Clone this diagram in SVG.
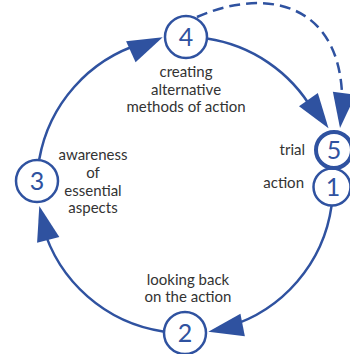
<svg xmlns="http://www.w3.org/2000/svg" xmlns:xlink="http://www.w3.org/1999/xlink" width="350" height="354" viewBox="0 0 350 354">
<style>
.edge{fill:none;stroke:#2F52A0;stroke-width:2.5}
.dash{stroke-dasharray:11 6}
.ah{fill:#2F52A0}
.node{fill:#fff;stroke:#2F52A0;stroke-width:2.5}
.thick{stroke-width:4}
.num{font-family:"Lato","Liberation Sans",sans-serif;font-size:25px;fill:#2F52A0;text-anchor:middle}
.lbl{font-family:"Lato","Liberation Sans",sans-serif;font-size:15px;fill:#333;text-anchor:middle}
.r{text-anchor:end}
</style>
<defs>
<polygon id="arrowhead" class="ah" points="0,0 -35,-11.5 -35,11.5"/>
</defs>
<rect width="350" height="354" fill="#fff"/>
<g id="connectors">
<path class="edge" d="M39.25,159.3 A148,148 0 0 1 141.7,43.5"/>
<use xlink:href="#arrowhead" transform="translate(162.7,37.3) rotate(-24.4)"/>
<path class="edge" d="M206.9,38.6 A148,148 0 0 1 313.2,111"/>
<use xlink:href="#arrowhead" transform="translate(328.5,128.3) rotate(55)"/>
<path class="edge dash" d="M197,17 C270,-15 347,5 342,112"/>
<use xlink:href="#arrowhead" transform="translate(340,128) rotate(97)"/>
<path class="edge" d="M331.6,205.6 A148,148 0 0 1 227.5,326.8"/>
<use xlink:href="#arrowhead" transform="translate(208.3,331.7) rotate(168.9)"/>
<path class="edge" d="M163.1,331.4 A148,148 0 0 1 42.8,226"/>
<use xlink:href="#arrowhead" transform="translate(39.3,206) rotate(-104.8)"/>
</g>
<g id="node4">
<circle class="node" cx="186" cy="37" r="21"/>
<text class="num" x="186" y="46">4</text>
<text class="lbl" x="186" y="77">creating</text>
<text class="lbl" x="186" y="95">alternative</text>
<text class="lbl" x="186" y="112">methods of action</text>
</g>
<g id="node3">
<circle class="node" cx="37" cy="181" r="21"/>
<text class="num" x="37" y="190">3</text>
<text class="lbl" x="93" y="160">awareness</text>
<text class="lbl" x="93" y="178">of</text>
<text class="lbl" x="93" y="196">essential</text>
<text class="lbl" x="93" y="213">aspects</text>
</g>
<g id="node2">
<circle class="node" cx="185" cy="333" r="21"/>
<text class="num" x="185" y="342">2</text>
<text class="lbl" x="188" y="285">looking back</text>
<text class="lbl" x="188" y="302">on the action</text>
</g>
<g id="node1">
<circle class="node" cx="332" cy="187" r="18.5"/>
<text class="num" x="333" y="196">1</text>
<text class="lbl r" x="304" y="188">action</text>
</g>
<g id="node5">
<circle class="node thick" cx="334" cy="150" r="18"/>
<text class="num" x="334" y="159">5</text>
<text class="lbl r" x="305" y="155">trial</text>
</g>
</svg>
